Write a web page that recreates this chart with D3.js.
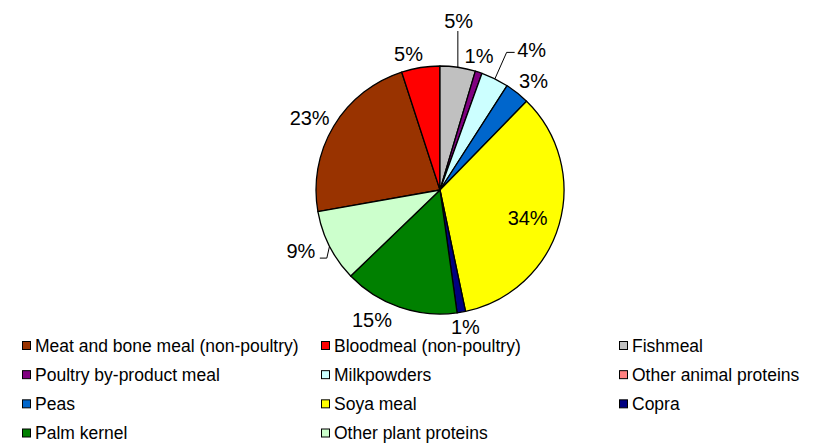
<!DOCTYPE html>
<html>
<head>
<meta charset="utf-8">
<script src="https://cdn.jsdelivr.net/npm/d3@7"></script>
<style>
  body { margin: 0; background: #fff; }
  text { font-family: Arial, "Liberation Sans", sans-serif; fill: #000; }
</style>
</head>
<body>
<div id="chart-area"></div>
<script>
const categories = ['Meat and bone meal (non-poultry)', 'Bloodmeal (non-poultry)', 'Fishmeal',
    'Poultry by-product meal', 'Milkpowders', 'Other animal proteins',
    'Peas', 'Soya meal', 'Copra', 'Palm kernel', 'Other plant proteins'];
const values = [22.8, 5.0, 4.6, 0.9, 3.6, 0, 3.2, 34.4, 1.1, 15.0, 9.4];
const colors = ['#993300', '#FF0000', '#C0C0C0', '#800080', '#CCFFFF', '#FF8080',
    '#0066CC', '#FFFF00', '#000080', '#008000', '#CCFFCC'];

const width = 816, height = 446;
const cx = 440, cy = 190, radius = 124;

// hand placed labels (angle shift in degrees, distance from centre), like the excel best fit
const labelSpots = {
    'Meat and bone meal (non-poultry)': { da: -2, r: 149 },
    'Bloodmeal (non-poultry)': { da: -4, r: 140 },
    'Fishmeal': { da: -2, r: 170, leader: 'up' },
    'Poultry by-product meal': { da: -2, r: 140 },
    'Milkpowders': { da: 7, r: 167, leader: 'right' },
    'Peas': { da: 2, r: 144 },
    'Soya meal': { da: 1.5, r: 92 },
    'Copra': { da: -0.6, r: 139 },
    'Palm kernel': { da: 8.5, r: 147 },
    'Other plant proteins': { da: 3.3, r: 152, leader: 'left' }
};

let svg = d3.select('#chart-area').append('svg').attr('width', width).attr('height', height);

let data = categories.map((c, i) => { return { name: c, value: values[i], color: colors[i] }; });

// fishmeal starts at twelve o'clock
let before = d3.sum(values.slice(0, categories.indexOf('Fishmeal')));
let offset = -before / d3.sum(values) * 2 * Math.PI;

let pie = d3.pie()
    .sort(null)
    .value((d) => { return d.value; })
    .startAngle(offset)
    .endAngle(offset + 2 * Math.PI);

let arc = d3.arc().innerRadius(0).outerRadius(radius);

let arcs = pie(data);
let g = svg.append('g').attr('transform', 'translate(' + cx + ',' + cy + ')');

g.selectAll('path').data(arcs.filter((d) => { return d.data.value > 0; }))
    .enter().append('path')
    .attr('d', arc)
    .attr('fill', (d) => { return d.data.color; })
    .attr('stroke', '#000')
    .attr('stroke-width', 1.3)
    .attr('stroke-linejoin', 'round');

let polar = (a, r) => { return [r * Math.sin(a), -r * Math.cos(a)]; };

arcs.filter((d) => { return d.data.value > 0; }).forEach((d) => {
    let spot = labelSpots[d.data.name];
    let mid = (d.startAngle + d.endAngle) / 2;
    let p = polar(mid + spot.da * Math.PI / 180, spot.r);
    g.append('text')
        .attr('x', p[0])
        .attr('y', p[1])
        .attr('dy', '0.35em')
        .attr('text-anchor', 'middle')
        .style('font-size', '20px')
        .text(Math.round(d.data.value) + '%');

    if (spot.leader) {
        let e = polar(mid, radius);
        let pts;
        if (spot.leader === 'up') pts = [e, [e[0], p[1] + 10]];
        if (spot.leader === 'right') pts = [e, [p[0] - 25, p[1] + 2], [p[0] - 17, p[1] + 2]];
        if (spot.leader === 'left') pts = [e, [p[0] + 26, p[1] + 7], [p[0] + 19, p[1] + 7]];
        g.append('path')
            .attr('d', d3.line()(pts))
            .attr('fill', 'none')
            .attr('stroke', '#000')
            .attr('stroke-width', 1);
    }
});

// legend, three columns
let colX = d3.scaleOrdinal().domain([0, 1, 2]).range([22, 321, 619]);
let rowY = d3.scaleLinear().domain([0, 3]).range([345.5, 433]);

let legend = svg.selectAll('.legend').data(data)
    .enter().append('g')
    .attr('class', 'legend')
    .attr('transform', (d, i) => { return 'translate(' + colX(i % 3) + ',' + rowY(Math.floor(i / 3)) + ')'; });

legend.append('rect')
    .attr('x', 0.5)
    .attr('y', -4)
    .attr('width', 8)
    .attr('height', 8)
    .attr('fill', (d) => { return d.color; })
    .attr('stroke', '#000')
    .attr('stroke-width', 1);

legend.append('text')
    .attr('x', 13)
    .attr('y', 0)
    .attr('dy', '0.35em')
    .style('font-size', '17.5px')
    .text((d) => { return d.name; });
</script>
</body>
</html>
